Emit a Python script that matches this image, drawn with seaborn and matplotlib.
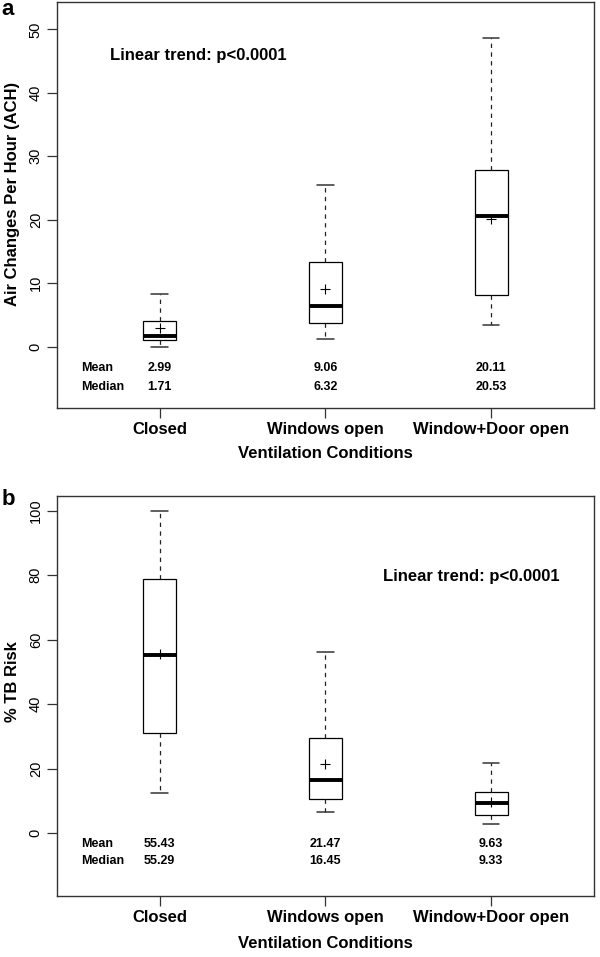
import pandas as pd
import seaborn as sns
import matplotlib.pyplot as plt


# Five-number summaries and means
categories = ["Closed", "Windows open", "Window+Door open"]

ach_min = [0.0, 1.15, 3.4]
ach_q1 = [1.0, 3.67, 8.1]
ach_median = [1.71, 6.32, 20.53]
ach_q3 = [4.05, 13.35, 27.9]
ach_max = [8.3, 25.4, 48.6]
ach_mean = [2.99, 9.06, 20.11]

tb_min = [12.5, 6.5, 2.7]
tb_q1 = [31.1, 10.45, 5.6]
tb_median = [55.29, 16.45, 9.33]
tb_q3 = [79.0, 29.6, 12.7]
tb_max = [100.0, 56.3, 21.6]
tb_mean = [55.43, 21.47, 9.63]

sns.set_style("ticks")
plt.rcParams["font.family"] = ["Liberation Sans", "DejaVu Sans"]
plt.rcParams["text.color"] = "black"
plt.rcParams["axes.labelcolor"] = "black"
plt.rcParams["xtick.color"] = "black"
plt.rcParams["ytick.color"] = "black"

FRAME = "#333333"


def summary_frame(mins, q1s, meds, q3s, maxs):
    """Five values per group so the box quartiles land on the summary"""
    rows = []
    for i, cat in enumerate(categories):
        for v in (mins[i], q1s[i], meds[i], q3s[i], maxs[i]):
            rows.append({"condition": cat, "value": v})
    return pd.DataFrame(rows)


def draw_panel(ax, df, means, medians, ylim, yticks, ylabel, trend_xy, label_y,
               text_y, xlabel_pad):
    sns.boxplot(data=df, x="condition", y="value", order=categories, ax=ax,
                width=0.2, whis=(0, 100), color="white", linecolor="black",
                linewidth=0.9, saturation=1,
                whiskerprops=dict(linestyle=(0, (3.5, 3.5)), color="#222222"),
                capprops=dict(color="#333333", linewidth=1.1),
                medianprops=dict(linewidth=2.8, color="black"))
    sns.pointplot(x=categories, y=means, order=categories, ax=ax,
                  linestyle="none", marker="+", color="black",
                  markersize=7.5, markeredgewidth=0.8, errorbar=None)

    ax.set_xlim(-0.62, 2.62)
    ax.set_ylim(*ylim)
    ax.set_yticks(yticks)

    # Mean / Median rows under the boxes
    ax.text(-0.47, text_y[0], "Mean", fontsize=9, fontweight="bold", va="center")
    ax.text(-0.47, text_y[1], "Median", fontsize=9, fontweight="bold", va="center")
    for i in range(len(categories)):
        ax.text(i, text_y[0], f"{means[i]:.2f}", fontsize=9, fontweight="bold",
                ha="center", va="center")
        ax.text(i, text_y[1], f"{medians[i]:.2f}", fontsize=9, fontweight="bold",
                ha="center", va="center")

    ax.text(trend_xy[0], trend_xy[1], "Linear trend: p<0.0001", fontsize=12,
            fontweight="bold", va="center")

    ax.set_xlabel("Ventilation Conditions", fontsize=12, fontweight="bold",
                  labelpad=xlabel_pad)
    ax.set_ylabel(ylabel, fontsize=12, fontweight="bold")
    ax.yaxis.set_label_coords(-0.068, label_y)

    ax.tick_params(axis="both", length=7, width=0.9, color=FRAME)
    ax.tick_params(axis="x", labelsize=12, pad=2.5)
    ax.tick_params(axis="y", labelsize=10.5, pad=3)
    for t in ax.get_xticklabels():
        t.set_fontweight("bold")
    for t in ax.get_yticklabels():
        t.set_rotation(90)
        t.set_va("center")
    for s in ax.spines.values():
        s.set_color(FRAME)
        s.set_linewidth(1.0)


fig = plt.figure(figsize=(6, 9.57), dpi=100)
ax_a = fig.add_axes([0.0945, 0.5733, 0.8955, 0.4249])
ax_b = fig.add_axes([0.0945, 0.0634, 0.8955, 0.4186])

df_a = summary_frame(ach_min, ach_q1, ach_median, ach_q3, ach_max)
df_b = summary_frame(tb_min, tb_q1, tb_median, tb_q3, tb_max)

draw_panel(ax_a, df_a, ach_mean, ach_median, (-9.74, 54.35), range(0, 51, 10),
           "Air Changes Per Hour (ACH)", (-0.30, 45.8), 0.527, (-3.44, -6.34), 7)
draw_panel(ax_b, df_b, tb_mean, tb_median, (-19.64, 104.7), range(0, 101, 20),
           "% TB Risk", (1.35, 79.6), 0.537, (-3.5, -8.6), 8.5)

fig.text(0.002, 0.9843, "a", fontsize=16, fontweight="bold")
fig.text(0.002, 0.4723, "b", fontsize=16, fontweight="bold")

fig.savefig("out.png", dpi=100)
